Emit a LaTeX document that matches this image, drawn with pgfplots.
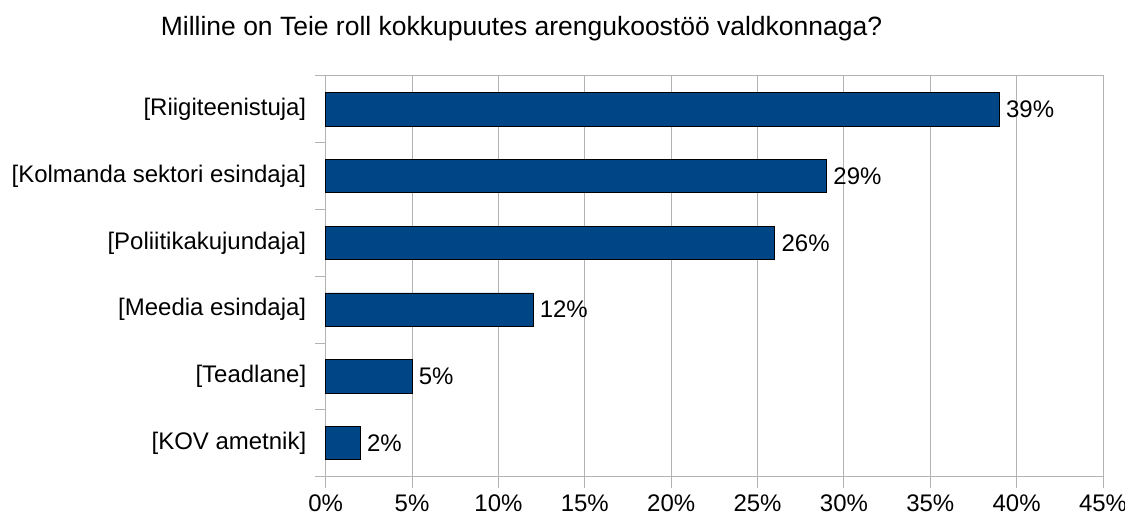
\documentclass[border=0pt]{standalone}
\usepackage{pgfplots}
\pgfplotsset{compat=1.18}
\usepackage{fontspec}
\setmainfont{Liberation Sans}
\definecolor{barblue}{HTML}{004586}
\definecolor{gridgray}{HTML}{B3B3B3}
\begin{document}
\begin{tikzpicture}
\useasboundingbox (-326pt,-40pt) rectangle (800pt,477pt);
\begin{axis}[
  at={(0pt,0pt)}, anchor=south west,
  scale only axis, width=778pt, height=401pt,
  xmin=0, xmax=45, ymin=-0.5, ymax=5.5,
  xbar, bar width=33.4pt,
  axis line style={gridgray, line width=0.9pt},
  xtick={0,5,...,45},
  xticklabels={0\%,5\%,10\%,15\%,20\%,25\%,30\%,35\%,40\%,45\%},
  xmajorgrids, major grid style={gridgray, line width=0.9pt},
  ytick={0,1,2,3,4,5},
  yticklabels={[KOV ametnik],[Teadlane],[Meedia esindaja],[Poliitikakujundaja],[Kolmanda sektori esindaja],[Riigiteenistuja]},
  minor ytick={-0.5,0.5,...,5.5},
  tick align=outside, tick pos=left,
  major tick length=11pt, minor tick length=11pt,
  every tick/.style={gridgray, line width=0.9pt},
  every major y tick/.append style={draw=none},
  every minor y tick/.append style={draw=gridgray, line width=0.9pt},
  xtick style={gridgray, line width=0.9pt},
  tick label style={font=\fontsize{24}{28}\selectfont, text=black},
  yticklabel style={anchor=east, xshift=-5pt},
  xticklabel style={anchor=base, inner sep=0pt, yshift=-24pt},
  /pgf/number format/assume math mode=true,
  nodes near coords={\pgfmathprintnumber{\pgfplotspointmeta}\%},
  nodes near coords style={font=\fontsize{24}{28}\selectfont, text=black, anchor=west, xshift=3pt},
  clip=false,
]
\addplot[fill=barblue, draw=black, line width=0.9pt] coordinates {
  (2,0) (5,1) (12,2) (26,3) (29,4) (39,5)
};
\end{axis}
\node[anchor=base, font=\fontsize{26.5}{31}\selectfont] at (196pt,441pt) {Milline on Teie roll kokkupuutes arengukoostöö valdkonnaga?};
\end{tikzpicture}
\end{document}
